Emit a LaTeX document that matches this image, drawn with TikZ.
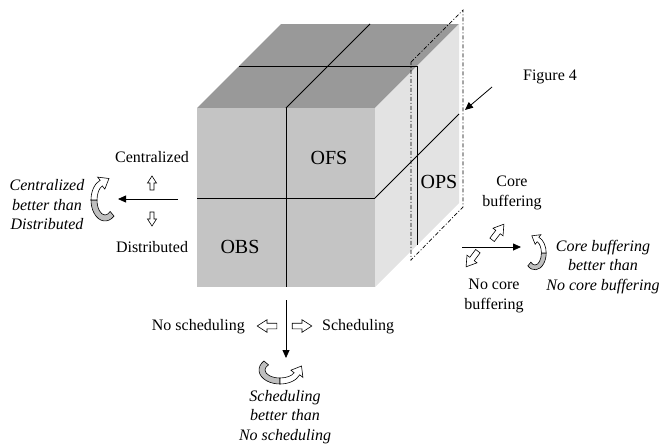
\documentclass[tikz,border=0pt]{standalone}
\usepackage{fontspec}
\setmainfont{Liberation Serif}
\usetikzlibrary{arrows.meta}

\definecolor{topgray}{gray}{0.60}
\definecolor{frontgray}{gray}{0.77}
\definecolor{sidegray}{gray}{0.89}

\tikzset{x=1pt, y=-1pt}
\tikzset{
  txt/.style={font=\fontsize{16}{19.5}\selectfont, align=center, inner sep=0pt},
  itxt/.style={txt, font=\fontsize{16}{19.5}\selectfont\itshape},
  cell/.style={font=\fontsize{20}{24}\selectfont, inner sep=0pt},
  split/.style={line width=0.8pt},
  axis/.style={line width=0.8pt, -{Triangle[length=8pt,width=7pt]}},
  slice/.style={line width=0.7pt, dash pattern=on 4pt off 2pt on 1pt off 2pt},
  % hollow block arrow, pointing up
  pics/openarrow/.style={code={
    \begin{scope}[yscale=-1]
    \draw[fill=white, line width=0.6pt] (-2,-7) -- (2,-7) -- (2,0) -- (4.5,0)
      -- (0,7) -- (-4.5,0) -- (-2,0) -- cycle;
    \end{scope}}},
  % curved ribbon arrow: shaded tail, white head
  pics/turnarrow/.style={code={
    \begin{scope}[yscale=-1, line width=0.6pt]
    \filldraw[fill=gray!50] (-50:14 and 21)
      arc[start angle=-50, end angle=-180, x radius=14, y radius=21]
      -- (-180:8 and 15)
      arc[start angle=-180, end angle=-50, x radius=8, y radius=15] -- cycle;
    \filldraw[fill=white] (180:14 and 21)
      arc[start angle=180, end angle=110, x radius=14, y radius=21]
      -- (-7.4,22.9) -- (4,21.5) -- (-0.2,10.9) -- (110:8 and 15)
      arc[start angle=110, end angle=180, x radius=8, y radius=15] -- cycle;
    \end{scope}}}
}

\begin{document}
\begin{tikzpicture}
 \useasboundingbox (0,0) rectangle (664,445);

 % cube corners
 \coordinate (A) at (197,108);
 \coordinate (B) at (375,108);
 \coordinate (C) at (375,287);
 \coordinate (D) at (197,287);
 \coordinate (E) at (281,24);
 \coordinate (F) at (459,24);
 \coordinate (G) at (459,203);

 \fill[topgray] (A) -- (E) -- (F) -- (B) -- cycle;
 \fill[frontgray] (A) rectangle (C);
 \fill[sidegray] (B) -- (F) -- (G) -- (C) -- cycle;

 % the cuts through the cube
 \draw[split] (286,108) -- (286,287);
 \draw[split] (197,198) -- (375,198);
 \draw[split] (286,108) -- (370,24);
 \draw[split] (239,66) -- (417,66) -- (417,245);
 \draw[split] (375,198) -- (459,114);

 \draw[slice] (411,62) -- (463,10) -- (463,207) -- (411,260) -- cycle;

 \node[cell] (ofs) at (329,158) {OFS};
 \node[cell] (ops) at (439,182) {OPS};
 \node[cell] (obs) at (240,247) {OBS};

 \node[txt] (fig) at (550,77) {Figure 4};
 \coordinate (figfrom) at (492,87);
 \coordinate (figto) at (465,110);
 \draw[axis] (figfrom) -- (figto);

 % left: centralized / distributed
 \node[txt] (cen) at (152,157) {Centralized};
 \pic at (152,183) {openarrow};
 \pic[rotate=180] at (152,219) {openarrow};
 \node[txt] (dis) at (152,247) {Distributed};
 \coordinate (cfrom) at (178,199);
 \coordinate (cto) at (118,199);
 \draw[axis] (cfrom) -- (cto);
 \pic at (105,200) {turnarrow};
 \node[itxt] (cbd) at (47,205) {Centralized\\better than\\Distributed};

 % bottom: scheduling
 \node[txt, anchor=east] (nsch) at (245,327) {No scheduling};
 \pic[rotate=90, scale=1.4] at (267,326) {openarrow};
 \pic[rotate=-90, scale=1.4] at (302,326) {openarrow};
 \node[txt, anchor=west] (sch) at (322,327) {Scheduling};
 \coordinate (sfrom) at (286,300);
 \coordinate (sto) at (286,358);
 \draw[axis] (sfrom) -- (sto);
 \pic[rotate=-90, xscale=-1] at (280,370) {turnarrow};
 \node[itxt] (sbn) at (285,417) {Scheduling\\better than\\No scheduling};

 % right: core buffering
 \node[txt] (cb) at (512,193) {Core\\buffering};
 \pic[rotate=-37, scale=1.4] at (498,232) {openarrow};
 \coordinate (bfrom) at (462,247);
 \coordinate (bto) at (521,247);
 \draw[axis] (bfrom) -- (bto);
 \pic[rotate=143, scale=1.4] at (472,259) {openarrow};
 \node[txt] (ncb) at (494,296) {No core\\buffering};
 \pic[xscale=-1, scale=0.8] at (535,253) {turnarrow};
 \node[itxt] (cbb) at (603,267) {Core buffering\\better than\\No core buffering};
\end{tikzpicture}
\end{document}
